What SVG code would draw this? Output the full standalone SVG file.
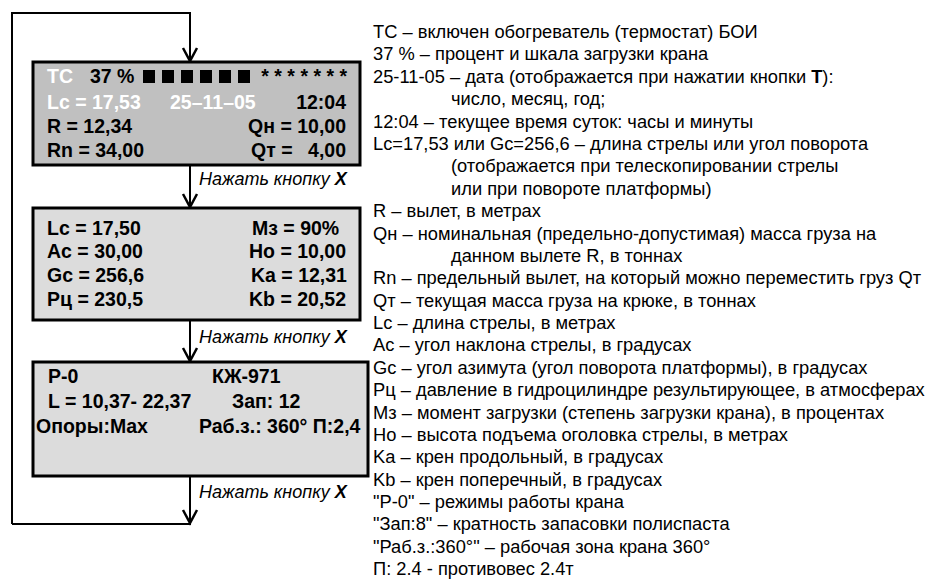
<svg xmlns="http://www.w3.org/2000/svg" width="926" height="580" viewBox="0 0 926 580">
<style>
.box{stroke:#000;stroke-width:3}
.dark{fill:#c0c0c0}
.light{fill:#dcdcdc}
.ln{fill:none;stroke:#000;stroke-width:2}
.ah{fill:none;stroke:#000;stroke-width:2.5;stroke-linejoin:miter}
.b{font-family:"Liberation Sans",Arial,sans-serif;font-weight:bold;font-size:19.5px;fill:#000}
.w{fill:#fff}
.lbl{font-family:"Liberation Sans",Arial,sans-serif;font-style:italic;font-size:18px;fill:#000}
.d{font-family:"Liberation Sans",Arial,sans-serif;font-size:18.3px;fill:#000}
</style>
<rect width="926" height="580" fill="#fff"/>
<g id="connectors">
<polyline class="ln" points="12,524 12,13 190,13 190,61"/>
<polyline class="ah" points="183,48 190,61 197,48"/>
<line class="ln" x1="190" y1="165" x2="190" y2="207"/>
<polyline class="ah" points="183,194 190,207 197,194"/>
<line class="ln" x1="190" y1="320" x2="190" y2="361"/>
<polyline class="ah" points="183,348 190,361 197,348"/>
<polyline class="ln" points="190,476 190,524 12,524"/>
<polyline class="ah" points="183,510 190,523 197,510"/>
<text class="lbl" x="199" y="185">Нажать кнопку <tspan font-weight="bold">X</tspan></text>
<text class="lbl" x="199" y="343">Нажать кнопку <tspan font-weight="bold">X</tspan></text>
<text class="lbl" x="199" y="498">Нажать кнопку <tspan font-weight="bold">X</tspan></text>
</g>
<g id="screen1">
<rect class="box dark" x="33" y="62" width="327" height="103"/>
<text class="b w" x="47" y="83">ТС</text>
<text class="b" x="90" y="83">37 %</text>
<g fill="#000">
<rect x="143" y="70" width="12" height="13"/>
<rect x="162" y="70" width="12" height="13"/>
<rect x="181" y="70" width="12" height="13"/>
<rect x="200" y="70" width="12" height="13"/>
<rect x="219" y="70" width="12" height="13"/>
<rect x="238" y="70" width="12" height="13"/>
</g>
<text class="b" x="347" y="83" text-anchor="end">* * * * * * *</text>
<text class="b w" x="47" y="109">Lc = 17,53</text>
<text class="b w" x="170" y="109">25–11–05</text>
<text class="b" x="346" y="109" text-anchor="end">12:04</text>
<text class="b" x="47" y="133">R = 12,34</text>
<text class="b" x="346" y="133" text-anchor="end">Qн = 10,00</text>
<text class="b" x="47" y="157">Rn = 34,00</text>
<text class="b" x="251" y="157">Qт =</text>
<text class="b" x="346" y="157" text-anchor="end">4,00</text>
</g>
<g id="screen2">
<rect class="box light" x="33" y="208" width="327" height="112"/>
<text class="b" x="47" y="235">Lc = 17,50</text>
<text class="b" x="252" y="235">Mз = 90%</text>
<text class="b" x="47" y="258">Ac = 30,00</text>
<text class="b" x="249" y="258">Ho = 10,00</text>
<text class="b" x="47" y="282">Gc = 256,6</text>
<text class="b" x="251" y="282">Ka = 12,31</text>
<text class="b" x="47" y="306">Pц = 230,5</text>
<text class="b" x="249" y="306">Kb = 20,52</text>
</g>
<g id="screen3">
<rect class="box light" x="33" y="362" width="335" height="114"/>
<text class="b" x="48" y="383">P-0</text>
<text class="b" x="212" y="383">КЖ-971</text>
<text class="b" x="48" y="408">L = 10,37- 22,37</text>
<text class="b" x="232" y="408">Зап: 12</text>
<text class="b" x="36" y="433">Опоры:Max</text>
<text class="b" x="199" y="433">Раб.з.: 360° П:2,4</text>
</g>
<g id="legend" class="d">
<text x="373" y="38">ТС – включен обогреватель (термостат) БОИ</text>
<text x="373" y="60">37 % – процент и шкала загрузки крана</text>
<text x="373" y="83">25-11-05 – дата (отображается при нажатии кнопки <tspan font-weight="bold">Т</tspan>):</text>
<text x="451" y="105">число, месяц, год;</text>
<text x="373" y="128">12:04 – текущее время суток: часы и минуты</text>
<text x="373" y="150">Lc=17,53 или Gc=256,6 – длина стрелы или угол поворота</text>
<text x="451" y="172">(отображается при телескопировании стрелы</text>
<text x="451" y="195">или при повороте платформы)</text>
<text x="373" y="217">R – вылет, в метрах</text>
<text x="373" y="240">Qн – номинальная (предельно-допустимая) масса груза на</text>
<text x="451" y="262">данном вылете R, в тоннах</text>
<text x="373" y="284">Rn – предельный вылет, на который можно переместить груз Qт</text>
<text x="373" y="307">Qт – текущая масса груза на крюке, в тоннах</text>
<text x="373" y="329">Lc – длина стрелы, в метрах</text>
<text x="373" y="351">Ac – угол наклона стрелы, в градусах</text>
<text x="373" y="374">Gc – угол азимута (угол поворота платформы), в градусах</text>
<text x="373" y="396">Pц – давление в гидроцилиндре результирующее, в атмосферах</text>
<text x="373" y="419">Mз – момент загрузки (степень загрузки крана), в процентах</text>
<text x="373" y="441">Ho – высота подъема оголовка стрелы, в метрах</text>
<text x="373" y="463">Ka – крен продольный, в градусах</text>
<text x="373" y="486">Kb – крен поперечный, в градусах</text>
<text x="373" y="508">"P-0" – режимы работы крана</text>
<text x="373" y="530">"Зап:8" – кратность запасовки полиспаста</text>
<text x="373" y="553">"Раб.з.:360°" – рабочая зона крана 360°</text>
<text x="373" y="575">П: 2.4 - противовес 2.4т</text>
</g>
</svg>
